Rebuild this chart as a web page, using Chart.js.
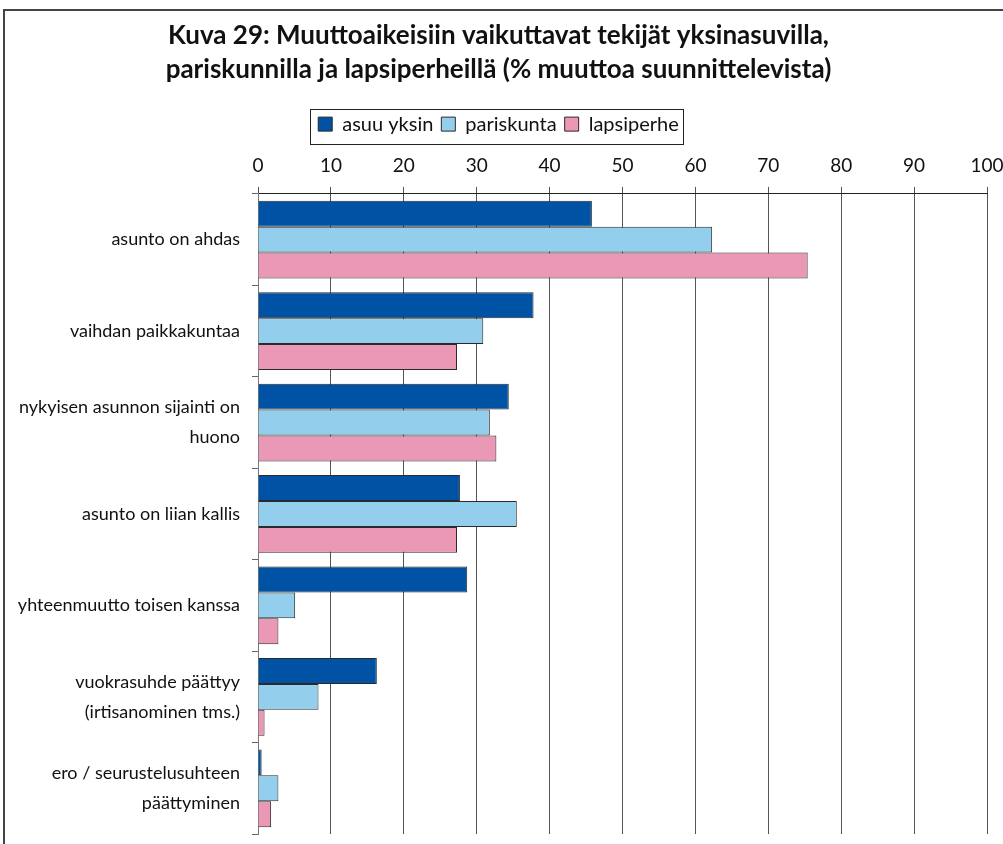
<!DOCTYPE html>
<html><head><meta charset="utf-8">
<script src="https://cdn.jsdelivr.net/npm/chart.js@4/dist/chart.umd.min.js"></script>
<style>html,body{margin:0;padding:0;background:#fff;}#wrap{width:1003px;height:844px;position:relative;}</style>
</head><body><div id="wrap"><canvas id="c" width="1003" height="844"></canvas></div>
<script>
const categories = [
  "asunto on ahdas",
  "vaihdan paikkakuntaa",
  ["nykyisen asunnon sijainti on", "huono"],
  "asunto on liian kallis",
  "yhteenmuutto toisen kanssa",
  ["vuokrasuhde päättyy", "(irtisanominen tms.)"],
  ["ero / seurustelusuhteen", "päättyminen"]
];
const seriesNames = ["asuu yksin", "pariskunta", "lapsiperhe"];
const asuuYksin = [45.8, 37.8, 34.4, 27.7, 28.7, 16.3, 0.5];
const pariskunta = [62.3, 30.9, 31.8, 35.5, 5.1, 8.3, 2.8];
const lapsiperhe = [75.4, 27.3, 32.7, 27.3, 2.8, 0.9, 1.8];
const titleLines = ["Kuva 29: Muuttoaikeisiin vaikuttavat tekijät yksinasuvilla,", "pariskunnilla ja lapsiperheillä (% muuttoa suunnittelevista)"];
const FONT = "Lato, 'Open Sans', sans-serif";

const framePlugin = {
  id: 'frame',
  afterDraw(chart) {
    const ctx = chart.ctx;
    ctx.save();
    ctx.strokeStyle = '#444';
    ctx.lineWidth = 2;
    ctx.beginPath();
    ctx.moveTo(4, 844); ctx.lineTo(4, 10); ctx.lineTo(1003, 10);
    ctx.stroke();
    const lg = chart.legend;
    const hb = lg.legendHitBoxes;
    if (hb && hb.length) {
      let l = Infinity, r = -Infinity, t = Infinity, b = -Infinity;
      hb.forEach(h => { l = Math.min(l, h.left); r = Math.max(r, h.left + h.width); t = Math.min(t, h.top); b = Math.max(b, h.top + h.height); });
      ctx.lineWidth = 1;
      ctx.strokeStyle = '#222';
      ctx.strokeRect(Math.round(l - 8) + 0.5, Math.round(t - 5) + 0.5, Math.round(r - l + 12), Math.round(b - t + 15));
    }
    ctx.restore();
  }
};

new Chart(document.getElementById('c'), {
  type: 'bar',
  data: {
    labels: categories,
    datasets: [
      { label: seriesNames[0], data: asuuYksin, backgroundColor: '#0052A5', borderColor: '#2a2a2a', borderWidth: 1 },
      { label: seriesNames[1], data: pariskunta, backgroundColor: '#93CFEC', borderColor: '#2a2a2a', borderWidth: 1 },
      { label: seriesNames[2], data: lapsiperhe, backgroundColor: '#EA98B5', borderColor: '#2a2a2a', borderWidth: 1 }
    ]
  },
  options: {
    indexAxis: 'y',
    responsive: false,
    animation: false,
    maintainAspectRatio: false,
    datasets: { bar: { categoryPercentage: 0.85, barPercentage: 1.0 } },
    layout: { padding: { left: 10, right: 16, bottom: 10, top: 0 } },
    plugins: {
      tooltip: { enabled: false },
      title: {
        display: true,
        text: titleLines,
        color: '#111',
        font: { family: FONT, size: 26, weight: 'bold', lineHeight: 1.31 },
        padding: { top: 19, bottom: 19 }
      },
      legend: {
        display: true,
        position: 'top',
        labels: {
          color: '#111',
          font: { family: FONT, size: 20 },
          boxWidth: 14, boxHeight: 14,
          padding: 8,
          useBorderRadius: false
        }
      }
    },
    scales: {
      x: {
        position: 'top',
        min: 0, max: 100,
        ticks: { stepSize: 10, color: '#111', font: { family: FONT, size: 19 }, padding: 10 },
        grid: { color: '#555', lineWidth: 1, tickLength: 7, drawTicks: true },
        border: { color: '#222', width: 1 },
        afterFit(s) { s.paddingLeft = 0; s.paddingRight = 0; }
      },
      y: {
        ticks: { color: '#111', font: { family: FONT, size: 18, lineHeight: 1.67 }, padding: 12 },
        grid: { offset: true, drawOnChartArea: false, tickLength: 6, color: '#666' },
        border: { color: '#777', width: 1 },
        afterFit(s) { s.width = 248; s.paddingTop = 0; s.paddingBottom = 0; }
      }
    }
  },
  plugins: [framePlugin]
});
</script></body></html>
